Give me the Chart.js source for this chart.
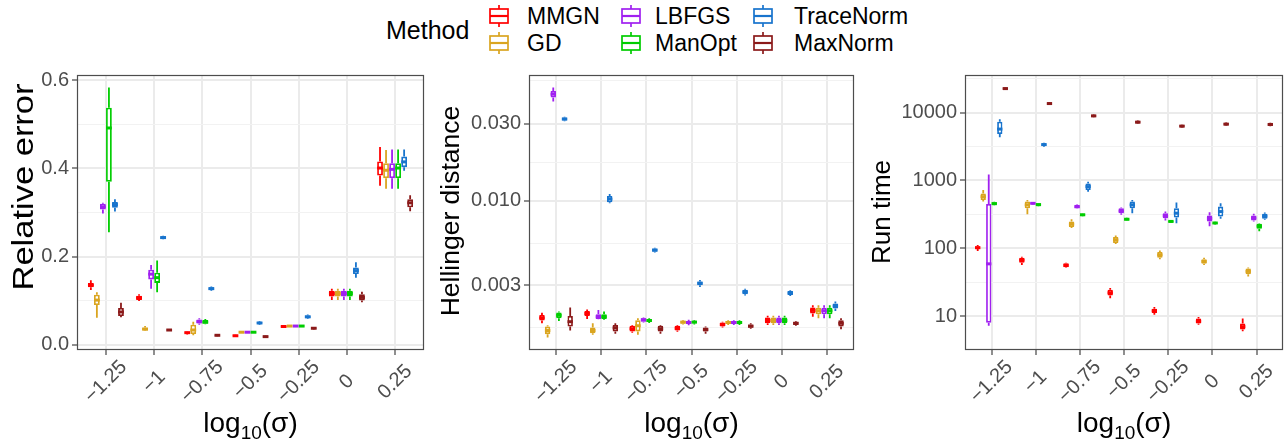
<!DOCTYPE html>
<html><head><meta charset="utf-8">
<script src="https://cdn.jsdelivr.net/npm/chart.js@4.4.1/dist/chart.umd.min.js"></script>
<style>
html,body{margin:0;padding:0;background:#fff;width:1286px;height:443px;overflow:hidden;font-family:'Liberation Sans',Arial,sans-serif;}
.wrap{position:absolute;top:60px;height:383px;}
#legend{position:absolute;left:0;top:0;width:1286px;height:60px;}
.lg{position:absolute;color:#000;white-space:nowrap;line-height:26px;height:26px;}
.gl{position:absolute;}
</style></head>
<body>
<div id="legend"></div>
<div class="wrap" style="left:0;width:430px"><canvas id="c1" width="430" height="383"></canvas></div>
<div class="wrap" style="left:430px;width:430px"><canvas id="c2" width="430" height="383"></canvas></div>
<div class="wrap" style="left:860px;width:426px"><canvas id="c3" width="426" height="383"></canvas></div>
<script>
// ---------- data ----------
const sigmaLabels = ['\u22121.25','\u22121','\u22120.75','\u22120.5','\u22120.25','0','0.25'];
const methods = ['MMGN','GD','LBFGS','ManOpt','TraceNorm','MaxNorm'];
const colors = ['#FF0000','#DAA520','#A020F0','#00CD00','#1874CD','#8B1A1A'];

// each entry: [lower whisker, Q1, median, Q3, upper whisker]
const err_MMGN = [[0.124,0.130,0.135,0.140,0.146],[0.099,0.101,0.106,0.111,0.114],[0.023,0.025,0.027,0.028,0.029],[0.018,0.019,0.020,0.021,0.022],[0.039,0.040,0.041,0.042,0.043],[0.101,0.109,0.116,0.122,0.127],[0.361,0.384,0.401,0.416,0.449]];
const err_GD = [[0.061,0.090,0.101,0.113,0.119],[0.031,0.032,0.035,0.039,0.042],[0.021,0.024,0.033,0.045,0.052],[0.026,0.027,0.028,0.029,0.030],[0.040,0.041,0.042,0.043,0.044],[0.101,0.109,0.116,0.122,0.127],[0.354,0.378,0.396,0.412,0.442]];
const err_LBFGS = [[0.298,0.307,0.313,0.320,0.322],[0.127,0.148,0.160,0.170,0.181],[0.045,0.048,0.052,0.057,0.060],[0.026,0.027,0.028,0.029,0.030],[0.040,0.041,0.042,0.043,0.044],[0.101,0.109,0.116,0.122,0.127],[0.354,0.378,0.398,0.412,0.443]];
const err_ManOpt = [[0.255,0.370,0.492,0.538,0.584],[0.119,0.140,0.152,0.163,0.191],[0.046,0.047,0.051,0.056,0.058],[0.026,0.027,0.028,0.029,0.030],[0.040,0.041,0.042,0.043,0.044],[0.101,0.109,0.116,0.122,0.127],[0.354,0.378,0.401,0.412,0.443]];
const err_TraceNorm = [[0.302,0.311,0.318,0.324,0.330],[0.239,0.240,0.243,0.246,0.247],[0.122,0.124,0.127,0.130,0.132],[0.045,0.047,0.049,0.051,0.053],[0.058,0.060,0.063,0.066,0.068],[0.152,0.160,0.168,0.175,0.187],[0.395,0.403,0.415,0.427,0.443]];
const err_MaxNorm = [[0.062,0.065,0.074,0.083,0.095],[0.031,0.032,0.033,0.034,0.035],[0.019,0.020,0.021,0.022,0.023],[0.016,0.017,0.018,0.019,0.020],[0.034,0.036,0.037,0.039,0.040],[0.096,0.100,0.107,0.114,0.120],[0.303,0.312,0.322,0.330,0.339]];

const hel_MMGN = [[0.00174,0.00181,0.00188,0.00196,0.00202],[0.00185,0.00193,0.00200,0.00207,0.00212],[0.00152,0.00155,0.00161,0.00168,0.00170],[0.00154,0.00157,0.00162,0.00168,0.00170],[0.00164,0.00166,0.00171,0.00176,0.00178],[0.00170,0.00174,0.00181,0.00189,0.00194],[0.00191,0.00200,0.00209,0.00218,0.00225]];
const hel_GD = [[0.00142,0.00149,0.00157,0.00166,0.00169],[0.00148,0.00151,0.00157,0.00164,0.00174],[0.00148,0.00155,0.00168,0.00182,0.00187],[0.00171,0.00173,0.00177,0.00180,0.00182],[0.00170,0.00172,0.00176,0.00180,0.00182],[0.00170,0.00174,0.00181,0.00189,0.00194],[0.00187,0.00198,0.00208,0.00217,0.00225]];
const hel_LBFGS = [[0.0411,0.0435,0.0456,0.0478,0.0501],[0.00184,0.00185,0.00191,0.00198,0.00210],[0.00176,0.00178,0.00183,0.00187,0.00189],[0.00169,0.00172,0.00176,0.00180,0.00183],[0.00170,0.00172,0.00176,0.00180,0.00182],[0.00170,0.00174,0.00181,0.00189,0.00194],[0.00187,0.00198,0.00208,0.00217,0.00225]];
const hel_ManOpt = [[0.00180,0.00187,0.00195,0.00203,0.00206],[0.00183,0.00185,0.00191,0.00198,0.00206],[0.00175,0.00177,0.00181,0.00185,0.00187],[0.00171,0.00174,0.00177,0.00180,0.00182],[0.00170,0.00172,0.00176,0.00180,0.00182],[0.00170,0.00174,0.00181,0.00189,0.00194],[0.00187,0.00198,0.00208,0.00217,0.00225]];
const hel_TraceNorm = [[0.0310,0.0313,0.0320,0.0327,0.0330],[0.00963,0.00976,0.01023,0.01067,0.0110],[0.00478,0.00482,0.00494,0.00505,0.00510],[0.00292,0.00299,0.00308,0.00316,0.00323],[0.00259,0.00263,0.00272,0.00281,0.00285],[0.00257,0.00260,0.00268,0.00276,0.00279],[0.00207,0.00215,0.00223,0.00231,0.00237]];
const hel_MaxNorm = [[0.00157,0.00166,0.00178,0.00193,0.00218],[0.00150,0.00155,0.00163,0.00170,0.00174],[0.00150,0.00155,0.00161,0.00168,0.00170],[0.00150,0.00155,0.00159,0.00164,0.00166],[0.00161,0.00163,0.00167,0.00171,0.00174],[0.00168,0.00170,0.00174,0.00178,0.00180],[0.00160,0.00166,0.00174,0.00182,0.00187]];

const time_MMGN = [[91,98,102,107,112],[56.9,61.5,66.9,72.7,75.2],[51.5,52.7,56,60.2,61],[18.4,20.1,22.1,24.6,26],[10.5,11.1,12.0,12.9,13.6],[7.5,7.78,8.4,9.2,9.7],[6.0,6.36,7.0,7.78,9.2]];
const time_GD = [[488,516,577,644,721],[318,389,437,488,516],[199,206,227,249,269],[116,120,133,147,154],[68.9,72.7,80,88,93],[56.9,59.4,64,68.9,72.7],[38.4,41.6,45.7,50.2,52]];
const time_LBFGS = [[7.2,8.0,59,451,1219],[440,445,460,477,482],[385,389,410,437,445],[312,329,355,389,398],[258,278,303,329,348],[211,249,275,305,341],[249,258,280,305,323]];
const time_ManOpt = [[430,437,455,477,485],[418,422,440,460,465],[298,302,312,323,327],[254,258,268,278,282],[237,241,249,258,262],[224,228,236,243,247],[178,195,212,230,235]];
const time_TraceNorm = [[4322,4828,5716,7318,7981],[3150,3228,3380,3534,3600],[683,722,812,901,954],[329,389,437,488,516],[235,284,329,389,472],[273,295,348,412,460],[264,273,298,323,337]];
const time_MaxNorm = [[21500,21900,22600,23400,23700],[12900,13080,13600,14130,14300],[8550,8652,8950,9258,9350],[6800,6914,7230,7568,7700],[5950,6043,6320,6617,6700],[6350,6463,6760,7077,7200],[6300,6400,6690,6985,7100]];

const errMajor = [0, 0.2, 0.4, 0.6];
const errMajorLabels = ['0.0', '0.2', '0.4', '0.6'];
const errMinor = [0.1, 0.3, 0.5];
const helMajor = [0.003, 0.01, 0.03];
const helMajorLabels = ['0.003', '0.010', '0.030'];
const helMinor = [0.001643, 0.005421, 0.01723, 0.0553];
const timeMajor = [10, 100, 1000, 10000];
const timeMajorLabels = ['10', '100', '1000', '10000'];
const timeMinor = [31.62, 316.2, 3162, 31623];

// ---------- rendering ----------
const FONT = "'Liberation Sans', Arial, sans-serif";
Chart.defaults.font.family = FONT;

// legend (HTML)
(function(){
  const lg = document.getElementById('legend');
  const t = document.createElement('div');
  t.className = 'lg'; t.textContent = 'Method';
  t.style.cssText = 'left:386px;top:17px;font-size:25px;';
  lg.appendChild(t);
  const glyphX = [488, 620, 752], textX = [527, 655, 794], rowY = [16, 43];
  methods.forEach((m, i) => {
    const col = Math.floor(i / 2), row = i % 2, c = colors[i];
    const g = document.createElement('div');
    g.className = 'gl';
    g.style.left = glyphX[col] + 'px'; g.style.top = (rowY[row] - 11) + 'px';
    g.innerHTML = '<svg width="22" height="22" xmlns="http://www.w3.org/2000/svg">' +
      '<line x1="11" y1="0" x2="11" y2="4" stroke="' + c + '" stroke-width="1.7"/>' +
      '<rect x="2" y="4" width="18" height="14" fill="#fff" stroke="' + c + '" stroke-width="1.7"/>' +
      '<line x1="2" y1="11" x2="20" y2="11" stroke="' + c + '" stroke-width="2.2"/>' +
      '<line x1="11" y1="18" x2="11" y2="22" stroke="' + c + '" stroke-width="1.7"/></svg>';
    lg.appendChild(g);
    const tx = document.createElement('div');
    tx.className = 'lg'; tx.textContent = m;
    tx.style.cssText = 'left:' + textX[col] + 'px;top:' + (rowY[row] - 13) + 'px;font-size:23px;';
    lg.appendChild(tx);
  });
})();

const boxPlugin = {
  id: 'boxWhisker',
  afterDatasetsDraw(chart) {
    const ctx = chart.ctx, ys = chart.scales.y;
    ctx.save();
    chart.data.datasets.forEach((ds, di) => {
      const meta = chart.getDatasetMeta(di);
      ds.stats.forEach((s, j) => {
        const el = meta.data[j];
        const x = el.x, w = el.width;
        const pLo = ys.getPixelForValue(s[0]), pQ1 = ys.getPixelForValue(s[1]);
        const pMed = ys.getPixelForValue(s[2]), pQ3 = ys.getPixelForValue(s[3]);
        const pHi = ys.getPixelForValue(s[4]);
        ctx.strokeStyle = ds.borderColor;
        ctx.lineWidth = 1.8;
        ctx.beginPath();
        ctx.moveTo(x, pQ3); ctx.lineTo(x, pHi);
        ctx.moveTo(x, pQ1); ctx.lineTo(x, pLo);
        ctx.stroke();
        ctx.lineWidth = 3;
        ctx.beginPath();
        ctx.moveTo(x - w / 2, pMed); ctx.lineTo(x + w / 2, pMed);
        ctx.stroke();
      });
    });
    ctx.restore();
  }
};

function makeDecor(o) {
  return {
    id: 'frameTitle',
    afterDraw(chart) {
      const ctx = chart.ctx, a = chart.chartArea, xs = chart.scales.x;
      ctx.save();
      ctx.strokeStyle = '#4d4d4d';
      ctx.lineWidth = 1.2;
      ctx.strokeRect(a.left + 0.5, a.top + 0.5, a.right - a.left - 1, a.bottom - a.top - 1);
      // rotated x tick labels, centred on their ticks
      ctx.fillStyle = '#4d4d4d';
      ctx.font = '20px ' + FONT;
      ctx.textAlign = 'center'; ctx.textBaseline = 'middle';
      xs.ticks.forEach(t => {
        const px = xs.getPixelForValue(t.value);
        ctx.save();
        ctx.translate(px, 322);
        ctx.rotate(-Math.PI / 4);
        ctx.fillText(sigmaLabels[Math.round(t.value)], 0, 0);
        ctx.restore();
      });
      // y axis title (rotated)
      ctx.fillStyle = '#000';
      ctx.font = o.titleSize + 'px ' + FONT;
      ctx.textAlign = 'center'; ctx.textBaseline = 'alphabetic';
      ctx.save();
      ctx.translate(o.titleX + o.titleBase * o.titleSize, o.titleY - 60);
      ctx.rotate(-Math.PI / 2);
      ctx.scale(o.titleStretch, 1);
      ctx.fillText(o.title, 0, 0);
      ctx.restore();
      // x axis title: log10(sigma) with subscript
      const cx = (a.left + a.right) / 2, y = 372;
      const big = '28px ' + FONT, small = '19px ' + FONT;
      ctx.textAlign = 'left'; ctx.textBaseline = 'alphabetic';
      ctx.font = big; const w1 = ctx.measureText('log').width, w3 = ctx.measureText('(\u03c3)').width;
      ctx.font = small; const w2 = ctx.measureText('10').width;
      let x = cx - (w1 + w2 + w3) / 2;
      ctx.font = big; ctx.fillText('log', x, y); x += w1;
      ctx.font = small; ctx.fillText('10', x, y + 7); x += w2;
      ctx.font = big; ctx.fillText('(\u03c3)', x, y);
      ctx.restore();
    }
  };
}

function makeChart(id, stats, o) {
  const datasets = methods.map((m, k) => ({
    label: m,
    data: stats[k].map((s, i) => ({ x: i, y: [s[1], s[3]] })),
    stats: stats[k],
    backgroundColor: '#ffffff',
    borderColor: colors[k],
    borderWidth: 1.8,
    borderSkipped: false,
    categoryPercentage: 0.75,
    barPercentage: 0.96
  }));
  const isMajor = v => o.major.some(m => Math.abs(m - v) <= Math.abs(m) * 1e-6 + 1e-12);
  new Chart(document.getElementById(id), {
    type: 'bar',
    data: { datasets },
    options: {
      responsive: false, animation: false, devicePixelRatio: 1,
      layout: { padding: { top: 12, right: o.rightPad, left: 0, bottom: 0 } },
      plugins: { legend: { display: false }, tooltip: { enabled: false } },
      scales: {
        x: {
          type: 'linear', min: -0.6, max: 6.6, offset: false,
          afterBuildTicks: s => { s.ticks = sigmaLabels.map((_, i) => ({ value: i })); },
          afterFit: s => { s.height = 93; },
          ticks: { display: false, autoSkip: false },
          grid: { offset: false, color: '#ebebeb', lineWidth: 2, drawTicks: true, tickLength: 5, tickColor: '#333333', tickWidth: 1.1 },
          border: { display: false }
        },
        y: {
          type: o.type, min: o.min, max: o.max,
          afterBuildTicks: s => {
            s.ticks = o.major.concat(o.minor).sort((a, b) => a - b).map(v => ({ value: v }));
          },
          afterFit: s => { s.width = o.axisWidth; },
          ticks: {
            autoSkip: false,
            callback: v => { const i = o.major.findIndex(m => Math.abs(m - v) <= Math.abs(m) * 1e-6 + 1e-12); return i >= 0 ? o.majorLabels[i] : ''; },
            font: { size: 20 }, color: '#4d4d4d', padding: 3
          },
          grid: {
            color: c => isMajor(c.tick.value) ? '#ebebeb' : '#f2f2f2',
            lineWidth: c => isMajor(c.tick.value) ? 2 : 1.1,
            tickLength: 5,
            tickColor: c => isMajor(c.tick.value) ? '#333333' : 'rgba(0,0,0,0)',
            tickWidth: 1.1
          },
          border: { display: false },
          title: { display: false }
        }
      }
    },
    plugins: [boxPlugin, makeDecor(o)]
  });
}

makeChart('c1', [err_MMGN, err_GD, err_LBFGS, err_ManOpt, err_TraceNorm, err_MaxNorm], {
  type: 'linear', min: -0.0124, max: 0.6124, major: errMajor, majorLabels: errMajorLabels, minor: errMinor,
  title: 'Relative error', titleSize: 30, titleStretch: 1.15, titleX: 22, titleBase: 0.36, titleY: 187,
  axisWidth: 77, rightPad: 6
});
makeChart('c2', [hel_MMGN, hel_GD, hel_LBFGS, hel_ManOpt, hel_TraceNorm, hel_MaxNorm], {
  type: 'logarithmic', min: 0.001189, max: 0.05994, major: helMajor, majorLabels: helMajorLabels, minor: helMinor,
  title: 'Hellinger distance', titleSize: 26.5, titleStretch: 1, titleX: 22.5, titleBase: 0.26, titleY: 211,
  axisWidth: 99, rightPad: 6
});
makeChart('c3', [time_MMGN, time_GD, time_LBFGS, time_ManOpt, time_TraceNorm, time_MaxNorm], {
  type: 'logarithmic', min: 3.17, max: 35840, major: timeMajor, majorLabels: timeMajorLabels, minor: timeMinor,
  title: 'Run time', titleSize: 26, titleStretch: 1, titleX: 21, titleBase: 0.36, titleY: 212,
  axisWidth: 105, rightPad: 3
});
</script>
</body></html>
